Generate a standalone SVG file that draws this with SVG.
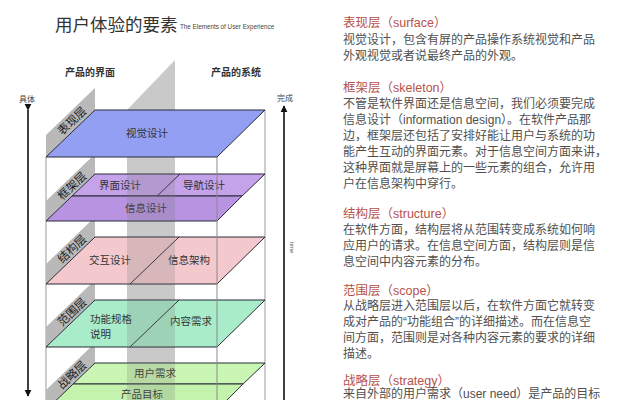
<svg xmlns="http://www.w3.org/2000/svg" width="624" height="400" viewBox="0 0 624 400">
<style>
.t{font-family:"Liberation Sans","Noto Sans CJK SC",sans-serif}
.h{font-size:12.5px;fill:#b5524a}
.b{font-size:12px;fill:#505050}
.pl{stroke:#2b2b38;stroke-width:1}
.lb{font-size:10.5px;fill:#333}
.tab{fill:#b9b9b9}
.tl{font-size:11.5px;fill:#222}
.vl{stroke:#9a9a9a;stroke-width:1;fill:none}
</style>
<defs>
<marker id="ah" viewBox="0 0 10 10" refX="9" refY="5" markerWidth="7" markerHeight="8" orient="auto" markerUnits="userSpaceOnUse">
<path d="M0,0 L10,5 L0,10 z" fill="#111"/>
</marker>
<clipPath id="lower">
<polygon points="95,174 265,174 217,221 46,221"/>
<polygon points="95,237 265,237 217,284 46,284"/>
<polygon points="95,300 265,300 217,347 46,347"/>
<polygon points="95,363 265,363 217,410 46,410"/>
</clipPath>
</defs>
<rect width="624" height="400" fill="#fff"/>

<g id="title">
<text class="t" x="55" y="31" font-size="17.5" fill="#333">用户体验的要素</text>
<text class="t" x="180" y="29" font-size="6.3" fill="#444">The Elements of User Experience</text>
<text class="t" x="65" y="76" font-size="10" font-weight="bold" fill="#333">产品的界面</text>
<text class="t" x="211" y="76" font-size="10" font-weight="bold" fill="#333">产品的系统</text>
</g>

<g id="axes">
<line x1="28" y1="110" x2="28" y2="396" stroke="#111" stroke-width="1.6" marker-start="url(#ah)" marker-end="url(#ah)"/>
<text class="t" x="19" y="102" font-size="8" fill="#444">具体</text>
<line x1="284" y1="400" x2="284" y2="106" stroke="#111" stroke-width="1.6" marker-end="url(#ah)"/>
<text class="t" x="277" y="101" font-size="8" fill="#444">完成</text>
<text class="t" x="0" y="0" font-size="6" fill="#555" transform="translate(290,242) rotate(90)">time</text>
</g>

<g id="band">
<polygon points="127,110 175,60 175,400 127,400" fill="#c9c9c9"/>
</g>

<g id="connectors">
<line class="vl" x1="46" y1="157" x2="46" y2="400"/>
<line class="vl" x1="265" y1="110" x2="265" y2="400"/>
</g>

<g id="tabs">
<polygon class="tab" points="46,157 46,135 95,88 95,110"/>
<polygon class="tab" points="46,221 46,201 95,154 95,174"/>
<polygon class="tab" points="46,284 46,264 95,217 95,237"/>
<polygon class="tab" points="46,347 46,327 95,280 95,300"/>
<polygon class="tab" points="46,410 46,390 95,343 95,363"/>
<text class="t tl" transform="translate(72,121) rotate(-44)" text-anchor="middle" dy="4">表现层</text>
<text class="t tl" transform="translate(72,186) rotate(-44)" text-anchor="middle" dy="4">框架层</text>
<text class="t tl" transform="translate(72,249) rotate(-44)" text-anchor="middle" dy="4">结构层</text>
<text class="t tl" transform="translate(72,312) rotate(-44)" text-anchor="middle" dy="4">范围层</text>
<text class="t tl" transform="translate(72,375) rotate(-44)" text-anchor="middle" dy="4">战略层</text>
</g>

<g id="surface">
<polygon class="pl" points="95,110 265,110 217,157 46,157" fill="#929ff3"/>
<text class="t lb" x="147" y="137" text-anchor="middle">视觉设计</text>
</g>

<g id="skeleton">
<polygon class="pl" points="95,174 265,174 242.1,196 72.1,196" fill="#c5a3ea"/>
<polygon class="pl" points="72.1,196 242.1,196 217,221 46,221" fill="#b893e2"/>
<line class="pl" x1="180" y1="174" x2="157.1" y2="196"/>
<text class="t lb" x="120" y="189" text-anchor="middle">界面设计</text>
<text class="t lb" x="204" y="189" text-anchor="middle">导航设计</text>
<text class="t lb" x="146" y="212" text-anchor="middle">信息设计</text>
</g>

<g id="structure">
<polygon class="pl" points="95,237 265,237 217,284 46,284" fill="#f4c9cd"/>
<line class="pl" x1="179" y1="237" x2="130" y2="284"/>
<text class="t lb" x="110" y="264" text-anchor="middle">交互设计</text>
<text class="t lb" x="189" y="264" text-anchor="middle">信息架构</text>
</g>

<g id="scope">
<polygon class="pl" points="95,300 265,300 217,347 46,347" fill="#a9ecca"/>
<line class="pl" x1="179" y1="300" x2="130" y2="347"/>
<text class="t lb" x="90" y="323">功能规格</text>
<text class="t lb" x="90" y="338">说明</text>
<text class="t lb" x="191" y="325" text-anchor="middle">内容需求</text>
</g>

<g id="strategy">
<polygon class="pl" points="95,363 265,363 243.1,384 73.1,384" fill="#c9f6b2"/>
<polygon class="pl" points="73.1,384 243.1,384 217,410 46,410" fill="#c4f3ad"/>
<text class="t lb" x="155" y="377" text-anchor="middle">用户需求</text>
<text class="t lb" x="142" y="398" text-anchor="middle">产品目标</text>
</g>

<g id="overlay">
<rect x="127" y="170" width="48" height="240" fill="#777" opacity="0.22" clip-path="url(#lower)"/>
<line x1="217" y1="157" x2="217" y2="400" stroke="#8a8a8a" stroke-width="1"/>
</g>

<g id="notes" class="t">
<text class="h" x="343" y="27">表现层（surface）</text>
<text class="b" x="343" y="44">视觉设计，包含有屏的产品操作系统视觉和产品</text>
<text class="b" x="343" y="60">外观视觉或者说最终产品的外观。</text>
<text class="h" x="343" y="92">框架层（skeleton）</text>
<text class="b" x="343" y="108">不管是软件界面还是信息空间，我们必须要完成</text>
<text class="b" x="343" y="124">信息设计（information design）。在软件产品那</text>
<text class="b" x="343" y="140">边，框架层还包括了安排好能让用户与系统的功</text>
<text class="b" x="343" y="156">能产生互动的界面元素。对于信息空间方面来讲，</text>
<text class="b" x="343" y="172">这种界面就是屏幕上的一些元素的组合，允许用</text>
<text class="b" x="343" y="188">户在信息架构中穿行。</text>
<text class="h" x="343" y="218">结构层（structure）</text>
<text class="b" x="343" y="234">在软件方面，结构层将从范围转变成系统如何响</text>
<text class="b" x="343" y="250">应用户的请求。在信息空间方面，结构层则是信</text>
<text class="b" x="343" y="266">息空间中内容元素的分布。</text>
<text class="h" x="343" y="295">范围层（scope）</text>
<text class="b" x="343" y="310">从战略层进入范围层以后，在软件方面它就转变</text>
<text class="b" x="343" y="326">成对产品的“功能组合”的详细描述。而在信息空</text>
<text class="b" x="343" y="342">间方面，范围则是对各种内容元素的要求的详细</text>
<text class="b" x="343" y="358">描述。</text>
<text class="h" x="343" y="385">战略层（strategy）</text>
<text class="b" x="343" y="398">来自外部的用户需求（user need）是产品的目标</text>
</g>
</svg>
